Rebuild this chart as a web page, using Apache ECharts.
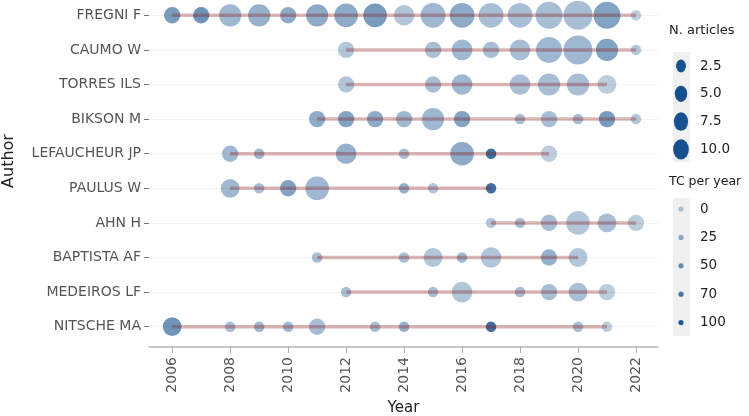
<!DOCTYPE html>
<html>
<head>
<meta charset="utf-8">
<title>Authors' production over time</title>
<script src="https://cdn.jsdelivr.net/npm/echarts@6/dist/echarts.min.js"></script>
<style>
    html, body { margin: 0; padding: 0; background: #fff; }
    #chart { width: 749px; height: 416px; }
</style>
</head>
<body>
<div id="chart"></div>
<script>
// Authors, top to bottom
const authors = ['FREGNI F', 'CAUMO W', 'TORRES ILS', 'BIKSON M', 'LEFAUCHEUR JP',
    'PAULUS W', 'AHN H', 'BAPTISTA AF', 'MEDEIROS LF', 'NITSCHE MA'];

// Publication years per author
const years = [
    [2006, 2007, 2008, 2009, 2010, 2011, 2012, 2013, 2014, 2015, 2016, 2017, 2018, 2019, 2020, 2021, 2022],
    [2012, 2015, 2016, 2017, 2018, 2019, 2020, 2021, 2022],
    [2012, 2015, 2016, 2018, 2019, 2020, 2021],
    [2011, 2012, 2013, 2014, 2015, 2016, 2018, 2019, 2020, 2021, 2022],
    [2008, 2009, 2012, 2014, 2016, 2017, 2019],
    [2008, 2009, 2010, 2011, 2014, 2015, 2017],
    [2017, 2018, 2019, 2020, 2021, 2022],
    [2011, 2014, 2015, 2016, 2017, 2019, 2020],
    [2012, 2015, 2016, 2018, 2019, 2020, 2021],
    [2006, 2008, 2009, 2010, 2011, 2013, 2014, 2017, 2020, 2021]
];

// N. articles for each year above
const articles = [
    [2, 2, 5, 5, 2, 5, 6, 6, 4, 7, 7, 7, 7, 9, 11, 9, 1],
    [2, 2, 4, 2, 4, 8, 11, 5, 1],
    [2, 2, 4, 4, 5, 5, 3],
    [2, 2, 2, 2, 5, 2, 1, 2, 1, 2, 1],
    [2, 1, 4, 1, 6, 1, 2],
    [3, 1, 2, 6, 1, 1, 1],
    [1, 1, 2, 6, 3, 2],
    [1, 1, 3, 1, 4, 2, 3],
    [1, 1, 4, 1, 2, 3, 2],
    [3, 1, 1, 1, 2, 1, 1, 1, 1, 1]
];

// Total citations per year for each year above
const tcPerYear = [
    [63, 71, 31, 39, 47, 47, 47, 63, 16, 31, 47, 24, 24, 24, 24, 55, 8],
    [16, 24, 31, 24, 24, 31, 31, 55, 16],
    [16, 24, 31, 24, 24, 24, 8],
    [47, 55, 47, 31, 31, 55, 24, 24, 24, 63, 16],
    [31, 31, 39, 24, 47, 110, 8],
    [31, 24, 55, 31, 39, 16, 110],
    [16, 24, 24, 16, 24, 8],
    [24, 24, 16, 31, 16, 39, 16],
    [24, 24, 16, 24, 24, 24, 8],
    [71, 24, 31, 31, 24, 24, 39, 110, 24, 8]
];

const xTicks = [2006, 2008, 2010, 2012, 2014, 2016, 2018, 2020, 2022];
const sizeBreaks = [2.5, 5.0, 7.5, 10.0];
const tcBreaks = [0, 25, 50, 70, 100];

// scales (area-proportional size, alpha by TC per year)
const allArticles = articles.flat();
const allTC = tcPerYear.flat();
const fMin = Math.min(...allArticles), fMax = Math.max(...allArticles);
const tcMax = Math.max(...allTC);

function pointSize(f) {
    return 10.5 + 18.5 * Math.sqrt(Math.max(0, f - fMin) / (fMax - fMin));
}
function pointColor(tc) {
    const a = 0.3 + 0.7 * tc / tcMax;
    return 'rgba(16,78,139,' + a.toFixed(3) + ')';
}

const scatterData = [];
authors.forEach((a, i) => {
    years[i].forEach((y, j) => {
        scatterData.push([y, a, articles[i][j], tcPerYear[i][j]]);
    });
});

// first-to-last year segment, drawn over the bubbles
const lineSeries = authors.map((a, i) => ({
    type: 'line',
    z: 5,
    silent: true,
    symbol: 'none',
    lineStyle: { color: 'rgba(139,26,26,0.32)', width: 3.5 },
    data: [[Math.min(...years[i]), a], [Math.max(...years[i]), a]]
}));

// hand-drawn legend (ggplotly style)
const legendX = 681;
const graphics = [
    {
        type: 'text', x: 9, y: 161, rotation: Math.PI / 2,
        style: { text: 'Author', font: '16px "DejaVu Sans"', fill: '#222', align: 'center', verticalAlign: 'middle' }
    },
    {
        type: 'text', x: 669, y: 31,
        style: { text: 'N. articles', font: '13px "DejaVu Sans"', fill: '#222', verticalAlign: 'middle' }
    },
    {
        type: 'rect', shape: { x: 673, y: 52, width: 17, height: 110 },
        style: { fill: '#f0f0f0' }
    },
    {
        type: 'text', x: 669, y: 182,
        style: { text: 'TC per year', font: '12.5px "DejaVu Sans"', fill: '#222', verticalAlign: 'middle' }
    },
    {
        type: 'rect', shape: { x: 673, y: 198, width: 17, height: 138 },
        style: { fill: '#f0f0f0' }
    }
];
sizeBreaks.forEach((v, k) => {
    const y = 66 + k * 27.8;
    graphics.push({
        type: 'circle', x: legendX, y: y, scaleY: 1.3,
        shape: { cx: 0, cy: 0, r: pointSize(v) * 0.28 },
        style: { fill: '#17508f' }
    });
    graphics.push({
        type: 'text', x: 700, y: y,
        style: { text: v.toFixed(1), font: '13.5px "DejaVu Sans"', fill: '#222', verticalAlign: 'middle' }
    });
});
tcBreaks.forEach((v, k) => {
    const y = 209 + k * 28.4;
    graphics.push({
        type: 'circle', x: legendX, y: y,
        shape: { cx: 0, cy: 0, r: 2.6 },
        style: { fill: pointColor(v) }
    });
    graphics.push({
        type: 'text', x: 700, y: y,
        style: { text: String(v), font: '13.5px "DejaVu Sans"', fill: '#222', verticalAlign: 'middle' }
    });
});

const chart = echarts.init(document.getElementById('chart'));
chart.setOption({
    animation: false,
    backgroundColor: '#fff',
    textStyle: { fontFamily: 'DejaVu Sans' },
    grid: { left: 149, right: 91, top: -2, bottom: 72, outerBoundsMode: 'none', containLabel: false },
    xAxis: {
        type: 'value',
        min: 2005.2,
        max: 2022.76,
        offset: 3,
        name: 'Year',
        nameLocation: 'middle',
        nameGap: 50,
        nameTextStyle: { fontSize: 15, color: '#222' },
        axisLine: { show: true, lineStyle: { color: '#b5b5b5', width: 1.5 } },
        axisTick: { show: true, customValues: xTicks, length: 6, lineStyle: { color: '#aaa' } },
        axisLabel: {
            customValues: xTicks, rotate: 90, fontSize: 14, color: '#555', margin: 10,
            formatter: v => String(v)
        },
        splitLine: { show: false }
    },
    yAxis: {
        type: 'category',
        inverse: true,
        data: authors,
        axisLine: { show: false },
        axisTick: { show: true, alignWithLabel: true, length: 5, lineStyle: { color: '#777' } },
        axisLabel: { fontSize: 14, color: '#555', margin: 8 },
        splitLine: { show: true, alignWithLabel: true, lineStyle: { color: '#f3f3f3', width: 1 } }
    },
    series: [
        {
            type: 'scatter',
            z: 2,
            silent: true,
            data: scatterData,
            symbolSize: d => pointSize(d[2]),
            itemStyle: { color: p => pointColor(p.data[3]) }
        },
        ...lineSeries
    ],
    graphic: graphics
});
</script>
</body>
</html>
